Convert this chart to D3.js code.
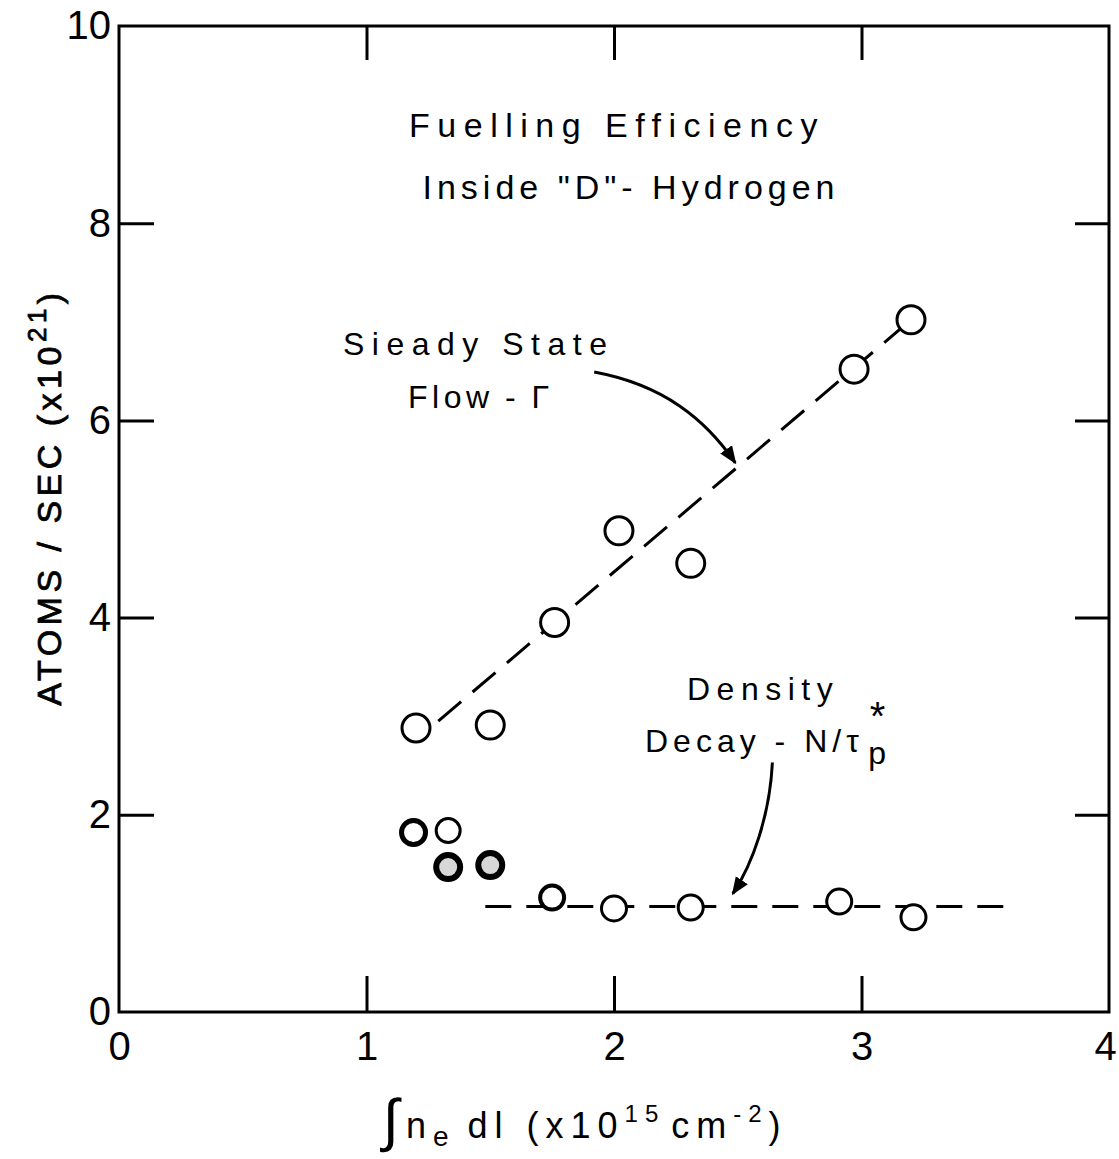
<!DOCTYPE html>
<html>
<head>
<meta charset="utf-8">
<script src="https://cdn.jsdelivr.net/npm/d3@7"></script>
<style>
  body { margin: 0; background: #fff; }
  text { font-family: "Liberation Sans", "DejaVu Sans", sans-serif; fill: #000; }
</style>
</head>
<body>
<div id="plot-cont"></div>
<script>
// data
const steadyX = [1.2, 1.5, 1.76, 2.02, 2.31, 2.97, 3.2];
const steadyY = [2.88, 2.91, 3.95, 4.88, 4.55, 6.52, 7.02];

const decayX = [2.0, 2.31, 2.91, 3.21];
const decayY = [1.05, 1.06, 1.12, 0.96];
// smudged points at low density
const decayDarkX = [1.19, 1.33, 1.33, 1.5, 1.75];
const decayDarkY = [1.82, 1.84, 1.47, 1.49, 1.16];

const steadyFitX = [1.29, 3.2];
const steadyFitY = [2.95, 7.02];
const decayFitX = [1.48, 3.61];
const decayFitY = [1.07, 1.07];

const xTicks = [0, 1, 2, 3, 4];
const yTicks = [0, 2, 4, 6, 8, 10];

const W = 1119, H = 1159;
const svg = d3.select('#plot-cont').append('svg')
    .attr('width', W).attr('height', H);
svg.append('rect').attr('width', W).attr('height', H).attr('fill', '#fff');

const x = d3.scaleLinear().domain([0, 4]).range([119, 1109]);
const y = d3.scaleLinear().domain([0, 10]).range([1012, 26]);

// frame
svg.append('rect')
    .attr('x', x(0)).attr('y', y(10))
    .attr('width', x(4) - x(0)).attr('height', y(0) - y(10))
    .attr('fill', 'none').attr('stroke', '#000').attr('stroke-width', 3);

const axB = svg.append('g').attr('transform', `translate(0,${y(0)})`)
    .call(d3.axisBottom(x).tickValues(xTicks).tickSizeInner(-36).tickSizeOuter(0)
      .tickPadding(20).tickFormat(d3.format('d')));
const axL = svg.append('g').attr('transform', `translate(${x(0)},0)`)
    .call(d3.axisLeft(y).tickValues(yTicks).tickSizeInner(-35).tickSizeOuter(0)
      .tickPadding(8).tickFormat(d3.format('d')));
const axT = svg.append('g').attr('transform', `translate(0,${y(10)})`)
    .call(d3.axisTop(x).tickValues([1, 2, 3]).tickSizeInner(-34).tickSizeOuter(0).tickFormat(''));
const axR = svg.append('g').attr('transform', `translate(${x(4)},0)`)
    .call(d3.axisRight(y).tickValues([2, 4, 6, 8]).tickSizeInner(-34).tickSizeOuter(0).tickFormat(''));

[axB, axL, axT, axR].forEach(g => {
  g.select('.domain').remove();
  g.selectAll('line').attr('stroke', '#000').attr('stroke-width', 3);
  g.selectAll('text').attr('font-size', 40).attr('fill', '#000')
    .style('font-family', '"Liberation Sans", sans-serif');
});
axB.selectAll('.tick').filter(d => d === 0 || d === 4).select('line').remove();
axB.selectAll('.tick').filter(d => d === 4).select('text').attr('dx', -4);
axL.selectAll('.tick').filter(d => d === 0 || d === 10).select('line').remove();

// dashed fits
const line = d3.line().x(d => x(d[0])).y(d => y(d[1]));
svg.append('path')
    .attr('d', line(d3.zip(steadyFitX, steadyFitY)))
    .attr('fill', 'none').attr('stroke', '#000').attr('stroke-width', 3)
    .attr('stroke-dasharray', '30 15');
svg.append('path')
    .attr('d', line(d3.zip(decayFitX, decayFitY)))
    .attr('fill', 'none').attr('stroke', '#000').attr('stroke-width', 3)
    .attr('stroke-dasharray', '26 15');

// points
svg.append('g').selectAll('circle')
    .data(d3.zip(steadyX, steadyY))
    .join('circle')
    .attr('cx', d => x(d[0])).attr('cy', d => y(d[1])).attr('r', 14)
    .attr('fill', '#fff').attr('stroke', '#000').attr('stroke-width', 3);
svg.append('g').selectAll('circle')
    .data(d3.zip(decayX, decayY))
    .join('circle')
    .attr('cx', d => x(d[0])).attr('cy', d => y(d[1])).attr('r', 12.5)
    .attr('fill', '#fff').attr('stroke', '#000').attr('stroke-width', 3);
const darkFill = ['#fff', '#fff', '#d8d8d8', '#d8d8d8', '#fff'];
const darkStroke = [5, 3, 6, 6, 4];
svg.append('g').selectAll('circle')
    .data(d3.zip(decayDarkX, decayDarkY))
    .join('circle')
    .attr('cx', d => x(d[0])).attr('cy', d => y(d[1])).attr('r', 12)
    .attr('fill', (d, i) => darkFill[i])
    .attr('stroke', '#000').attr('stroke-width', (d, i) => darkStroke[i]);

// arrows
const defs = svg.append('defs');
defs.append('marker').attr('id', 'head')
    .attr('viewBox', '0 0 10 10').attr('refX', 9).attr('refY', 5)
    .attr('markerWidth', 6).attr('markerHeight', 6).attr('orient', 'auto')
    .attr('markerUnits', 'strokeWidth')
  .append('path').attr('d', 'M0,1 L10,5 L0,9 Z').attr('fill', '#000');

const arrow1 = [[1.92, 6.49], [2.2, 6.36], [2.37, 6.01], [2.49, 5.57]];
const arrow2 = [[2.64, 2.53], [2.63, 2.0], [2.56, 1.5], [2.48, 1.2]];
[arrow1, arrow2].forEach(a => {
  const p = d3.path();
  p.moveTo(x(a[0][0]), y(a[0][1]));
  p.bezierCurveTo(x(a[1][0]), y(a[1][1]), x(a[2][0]), y(a[2][1]), x(a[3][0]), y(a[3][1]));
  svg.append('path').attr('d', p.toString())
      .attr('fill', 'none').attr('stroke', '#000').attr('stroke-width', 3)
      .attr('marker-end', 'url(#head)');
});

// annotations
function label(txt, tx, ty, anchor, size, ls) {
  return svg.append('text').attr('x', tx).attr('y', ty)
      .attr('text-anchor', anchor).attr('font-size', size)
      .attr('letter-spacing', ls).text(txt);
}
label('Fuelling Efficiency', 617, 137, 'middle', 34, 7.5);
label('Inside "D"- Hydrogen', 631, 199, 'middle', 34, 5);
label('Sieady State', 343, 355, 'start', 32, 7.5);
label('Flow - \u0393', 408, 408, 'start', 32, 4.5).attr('word-spacing', -2);
label('Density', 687, 700, 'start', 32, 6.5);
const dec = label('Decay - N/\u03c4', 645, 752, 'start', 32, 5);
dec.append('tspan').attr('dx', 6).attr('dy', -22).attr('font-size', 40).text('*');
dec.append('tspan').attr('dx', -22).attr('dy', 34).attr('font-size', 32).text('p');

// axis titles
const yl = svg.append('text')
    .attr('transform', 'translate(61,497) rotate(-90)')
    .attr('text-anchor', 'middle').attr('font-size', 34).attr('letter-spacing', 4.5)
    .attr('stroke', '#000').attr('stroke-width', 0.8);
yl.append('tspan').text('ATOMS / SEC (x10');
yl.append('tspan').attr('dy', -15).attr('font-size', 26).text('21');
yl.append('tspan').attr('dy', 15).text(')');

const xl = svg.append('text').attr('x', 383).attr('y', 1138)
    .attr('font-size', 36).attr('letter-spacing', 7);
xl.append('tspan').attr('font-size', 58).attr('dy', 2).text('\u222b');
xl.append('tspan').attr('dy', -2).text('n');
xl.append('tspan').attr('dy', 8).attr('font-size', 28).text('e');
xl.append('tspan').attr('dy', -8).attr('dx', 12).text('dl (x10');
xl.append('tspan').attr('dy', -16).attr('font-size', 24).text('15');
xl.append('tspan').attr('dy', 16).attr('dx', 6).text('cm');
xl.append('tspan').attr('dy', -16).attr('font-size', 24).text('-2');
xl.append('tspan').attr('dy', 16).text(')');
</script>
</body>
</html>
